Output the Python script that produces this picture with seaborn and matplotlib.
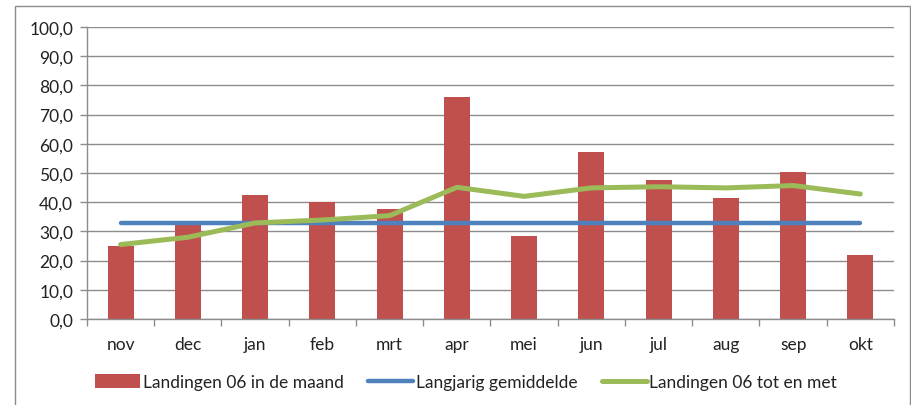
import matplotlib
matplotlib.use("Agg")
import matplotlib.pyplot as plt
import seaborn as sns
import numpy as np
from matplotlib.patches import Patch, Rectangle
from matplotlib.lines import Line2D
from matplotlib.ticker import FixedLocator, FuncFormatter

months = ["nov", "dec", "jan", "feb", "mrt", "apr", "mei", "jun", "jul", "aug", "sep", "okt"]
landingen_maand = [25.1, 33.0, 42.5, 40.0, 37.7, 76.1, 28.5, 57.3, 47.7, 41.3, 50.4, 22.0]
langjarig = [33.0] * 12
landingen_cum = [25.5, 28.0, 32.9, 33.9, 35.4, 45.1, 42.0, 44.9, 45.3, 44.9, 45.7, 42.8]
yticks = [0, 10, 20, 30, 40, 50, 60, 70, 80, 90, 100]

label_bar = "Landingen 06 in de maand"
label_avg = "Langjarig gemiddelde"
label_cum = "Landingen 06 tot en met"

RED = "#C0504D"
BLUE = "#4F81BD"
GREEN = "#9BBB59"
GRID = "#8C8C8C"
FS = 12.5

sns.set_theme(style="white")
plt.rcParams["font.family"] = ["Lato", "DejaVu Sans"]

fig = plt.figure(figsize=(9.12, 4.06), dpi=100)
ax = fig.add_axes([87 / 912, 1 - 320 / 406, (894 - 87) / 912, (320 - 28) / 406])

sns.barplot(x=months, y=landingen_maand, color=RED, width=0.39, saturation=1,
            ax=ax, zorder=2, edgecolor="none")
sns.pointplot(x=months, y=langjarig, color=BLUE, markers="", linewidth=3.2,
              ax=ax, zorder=3)
sns.pointplot(x=months, y=landingen_cum, color=GREEN, markers="", linewidth=3.6,
              ax=ax, zorder=4)

ax.set_xlim(-0.5, len(months) - 0.5)
ax.set_ylim(0, 100)
ax.yaxis.set_major_locator(FixedLocator(yticks))
ax.yaxis.set_major_formatter(FuncFormatter(lambda v, p: f"{v:.1f}".replace(".", ",")))
ax.grid(axis="y", color=GRID, linewidth=1.0, zorder=0)
ax.grid(axis="x", visible=False)
ax.set_axisbelow(True)

for s in ["top", "right"]:
    ax.spines[s].set_visible(False)
for s in ["left", "bottom"]:
    ax.spines[s].set_color(GRID)
    ax.spines[s].set_linewidth(1.0)

ax.set_xticks(np.arange(len(months)))
ax.set_xticklabels(months)
ax.set_xticks(np.arange(len(months) + 1) - 0.5, minor=True)
ax.tick_params(axis="x", which="major", length=0, pad=12, labelsize=FS, colors="#222222")
ax.tick_params(axis="x", which="minor", length=5, width=1, color=GRID, direction="out", bottom=True)
ax.tick_params(axis="y", which="major", length=5, width=1, color=GRID, direction="out",
               left=True, pad=5, labelsize=FS, labelcolor="#222222")
ax.set_xlabel("")
ax.set_ylabel("")

handles = [
    Patch(facecolor=RED, edgecolor="none", label=label_bar),
    Line2D([0], [0], color=BLUE, linewidth=3.2, label=label_avg),
    Line2D([0], [0], color=GREEN, linewidth=3.6, label=label_cum),
]
fig.legend(handles=handles, loc="center", bbox_to_anchor=(0.511, 1 - 383 / 406), ncol=3,
           frameon=False, fontsize=FS, handlelength=2.6, handleheight=0.85,
           handletextpad=0.15, columnspacing=1.4, labelcolor="#222222")

# outer chart border
fig.add_artist(Rectangle((15 / 912, -0.05), (910 - 15) / 912, 1.05 - 7 / 406,
                         transform=fig.transFigure, fill=False, edgecolor="#8C8C8C",
                         linewidth=1.0))

fig.savefig("out.png", dpi=100)
